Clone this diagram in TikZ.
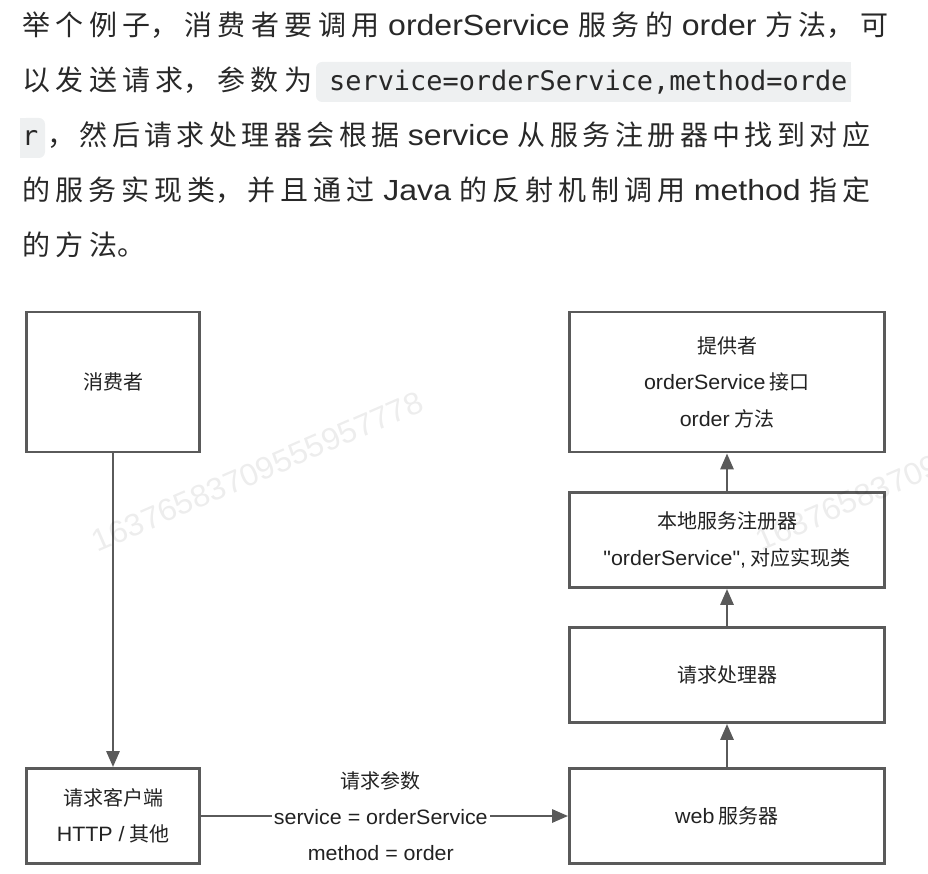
\documentclass[tikz,border=0pt]{standalone}
\usepackage{fontspec}
\setmainfont{Noto Sans CJK SC}
\newfontfamily\enfont{Liberation Sans}[Scale=1.04, FakeStretch=1.1]
\newfontfamily\dgfont{Liberation Sans}[Scale=1.04, FakeStretch=1.03]
\newfontfamily\codefont{DejaVu Sans Mono}
\usetikzlibrary{arrows.meta}
\newcommand{\en}[1]{{\enfont #1}}
\newcommand{\dg}[1]{{\dgfont #1}}
\newcommand{\jline}[2]{\vbox{\hsize=#1\parindent=0pt\parfillskip=0pt\tolerance=10000
  \spaceskip=8pt plus 2pt\noindent #2}}
\XeTeXlinebreaklocale "zh"
\XeTeXlinebreakskip=0pt plus 20pt
\definecolor{linegray}{RGB}{90,90,90}
\definecolor{textgray}{RGB}{34,34,34}
\definecolor{paragray}{RGB}{40,40,40}
\definecolor{codebg}{RGB}{238,240,241}
\tikzset{
  sysbox/.style={draw=linegray, line width=2.8pt, fill=white, text=textgray,
    align=center, inner sep=0pt, font=\fontsize{20}{36.5}\selectfont},
  conn/.style={draw=linegray, line width=2.8pt, -{Triangle[length=16pt,width=13pt]}},
  para/.style={anchor=base west, inner sep=0pt, text=paragray, font=\fontsize{28}{36}\selectfont},
  codetext/.style={anchor=base west, inner sep=0pt, text=paragray, font=\codefont\fontsize{26.9}{30}\selectfont},
  wmark/.style={anchor=south west, inner sep=0pt, rotate=23.5, text=black, text opacity=0.07,
    font=\dgfont\fontsize{30}{30}\selectfont}
}
\begin{document}
\begin{tikzpicture}[x=1pt, y=-1pt]
  \useasboundingbox (0,0) rectangle (928,874);
  % paragraph
  \node[para] (line1) at (22,36) {\jline{866pt}{举个例子，消费者要调用 \en{orderService} 服务的 \en{order} 方法，可}};
  \node[para] (line2) at (22,91) {\jline{290pt}{以发送请求，参数为}};
  \fill[codebg, rounded corners=6pt] (316,62) rectangle (851,102);
  \fill[codebg] (830,62) rectangle (851,102);
  \node[codetext] (code1) at (329,91) {service=orderService,method=orde};
  \fill[codebg, rounded corners=6pt] (20,118) rectangle (45,158);
  \fill[codebg] (20,118) rectangle (34,158);
  \node[codetext] (code2) at (22,146) {r};
  \node[para] (line3) at (47,146) {\jline{823pt}{，然后请求处理器会根据 \en{service} 从服务注册器中找到对应}};
  \node[para] (line4) at (22,201) {\jline{848pt}{的服务实现类，并且通过 \en{Java} 的反射机制调用 \en{method} 指定}};
  \node[para] (line5) at (22,256) {\jline{123pt}{的方法。}};
  % diagram
  \node[sysbox, minimum width=173pt, minimum height=140pt] (consumer) at (113,382) {消费者};
  \node[sysbox, minimum width=173pt, minimum height=95pt] (client) at (113,816) {请求客户端\\\dg{HTTP /} 其他};
  \node[sysbox, minimum width=315pt, minimum height=140pt] (provider) at (727,382) {提供者\\\dg{orderService} 接口\\\dg{order} 方法};
  \node[sysbox, minimum width=315pt, minimum height=95pt] (registry) at (727,540) {本地服务注册器\\\dg{"orderService",} 对应实现类};
  \node[sysbox, minimum width=315pt, minimum height=95pt] (handler) at (727,675) {请求处理器};
  \node[sysbox, minimum width=315pt, minimum height=95pt] (web) at (727,816) {\dg{web} 服务器};
  \draw[conn] (consumer) -- (client);
  \draw[conn] (client) -- node[pos=0.49, fill=white, text=textgray, align=center, inner xsep=2pt, inner ysep=0pt,
    font=\fontsize{20}{36}\selectfont] (param) {请求参数\\\dg{service = orderService}\\\dg{method = order}} (web);
  \draw[conn] (web) -- (handler);
  \draw[conn] (handler) -- (registry);
  \draw[conn] (registry) -- (provider);
  % watermark
  \node[wmark] (wm1) at (98,553) {16376583709555957778};
  \node[wmark] (wm2) at (762,552) {16376583709555957778};
\end{tikzpicture}
\end{document}
